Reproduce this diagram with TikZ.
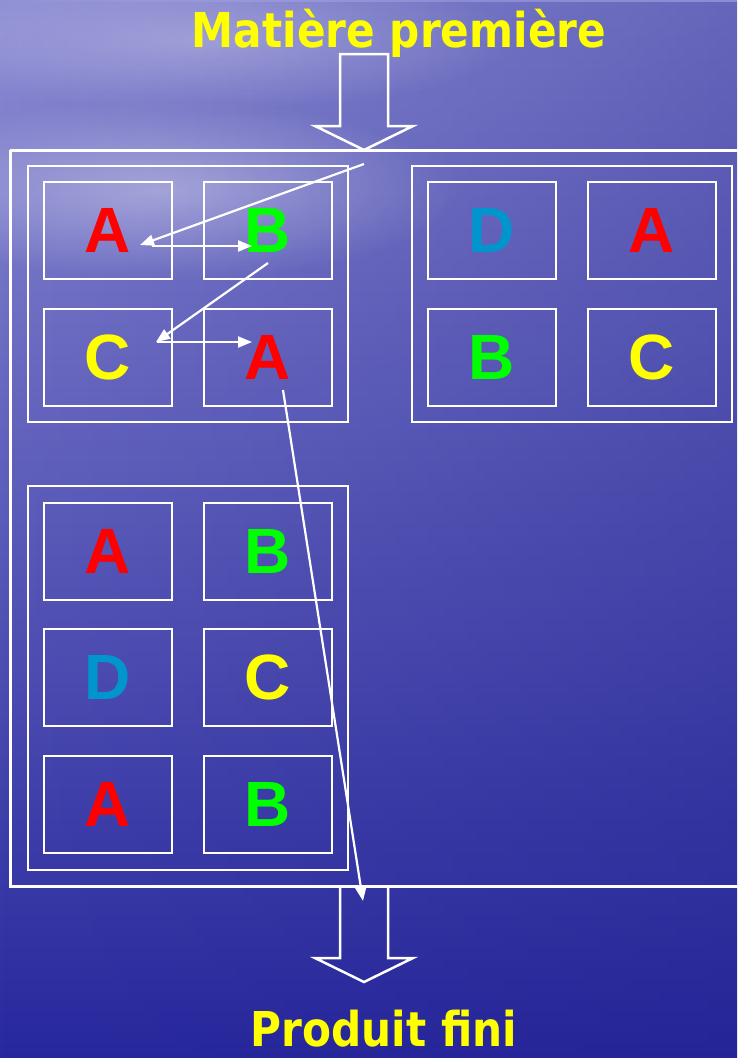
\documentclass[tikz,border=0pt]{standalone}
\usepackage{fontspec}
\setmainfont{Liberation Sans}
\newfontfamily\titlefont{DejaVu Sans}
\usetikzlibrary{arrows.meta,fadings}
\definecolor{bgtop}{RGB}{140,140,212}
\definecolor{bgmid}{RGB}{92,92,190}
\definecolor{bgbot}{RGB}{40,40,158}
\definecolor{bgdark}{RGB}{30,30,140}
\definecolor{lred}{RGB}{255,0,0}
\definecolor{lgreen}{RGB}{0,255,0}
\definecolor{lyellow}{RGB}{255,255,0}
\definecolor{lcyan}{RGB}{0,150,205}
\tikzfading[name=fadetoleft, left color=transparent!100, right color=transparent!0]
\tikzfading[name=softblob, inner color=transparent!0, outer color=transparent!100]
\tikzset{
  cell/.style={draw=white, line width=2pt, minimum width=128pt, minimum height=97pt,
    inner sep=0pt, font=\fontsize{64}{64}\selectfont\bfseries},
  grp/.style={draw=white, line width=2pt, minimum width=320pt, inner sep=0pt},
  bigarrow/.style={draw=white, line width=2.5pt, line join=miter},
  flow/.style={draw=white, line width=2.2pt, -{Triangle[length=14pt,width=11pt]}},
  titletext/.style={text=lyellow, font=\fontsize{48}{48}\titlefont\bfseries, inner sep=0pt}
}
\begin{document}
\begin{tikzpicture}[x=1pt,y=-1pt]
\useasboundingbox (0,0) rectangle (737,1058);
% background
\shade[top color=bgtop, middle color=bgmid, bottom color=bgbot] (0,0) rectangle (737,1058);
\fill[bgdark, opacity=0.35, path fading=fadetoleft] (0,0) rectangle (737,1058);
\fill[white, opacity=0.35, path fading=softblob] (160,190) ellipse (300 and 90);
\fill[white, opacity=0.25, path fading=softblob] (200,40) ellipse (320 and 70);

% titles
\node[titletext, anchor=base] (top) at (399,47) {\scalebox{0.88}[1]{Matière première}};
\node[titletext, anchor=base] (bottom) at (384,1046) {\scalebox{0.88}[1]{Produit fini}};

% outer frame
\draw[white, line width=3pt] (10,150) -- (745,150) (10,150) -- (10,886) -- (745,886);

% big arrows
\draw[bigarrow] (340,54) -- (388,54) -- (388,126) -- (413,126) -- (364,150) -- (315,126) -- (340,126) -- cycle;
\draw[bigarrow] (340,886) -- (340,958) -- (315,958) -- (364,982) -- (413,958) -- (388,958) -- (388,886);

% groups
\node[grp, minimum height=256pt] (g1) at (188,294) {};
\node[grp, minimum height=256pt] (g2) at (572,294) {};
\node[grp, minimum height=384pt] (g3) at (188,678) {};

% group 1
\node[cell, text=lred]    (a11) at (108,230.5) {A};
\node[cell, text=lgreen]  (a12) at (268,230.5) {B};
\node[cell, text=lyellow] (a21) at (108,357) {C};
\node[cell, text=lred]    (a22) at (268,357) {A};
% group 2
\node[cell, text=lcyan]   (b11) at (492,230.5) {D};
\node[cell, text=lred]    (b12) at (652,230.5) {A};
\node[cell, text=lgreen]  (b21) at (492,357) {B};
\node[cell, text=lyellow] (b22) at (652,357) {C};
% group 3
\node[cell, text=lred]    (c11) at (108,551) {A};
\node[cell, text=lgreen]  (c12) at (268,551) {B};
\node[cell, text=lcyan]   (c21) at (108,677) {D};
\node[cell, text=lyellow] (c22) at (268,677) {C};
\node[cell, text=lred]    (c31) at (108,804) {A};
\node[cell, text=lgreen]  (c32) at (268,804) {B};

% flow path
\coordinate (p0) at (364,164);
\coordinate (p1) at (140,245);
\coordinate (p2) at (152,246);
\coordinate (p3) at (252,246);
\coordinate (p4) at (268,263);
\coordinate (p5) at (156,342);
\coordinate (p6) at (157,342);
\coordinate (p7) at (252,342);
\coordinate (p8) at (283,390);
\coordinate (p9) at (363,901);
\draw[flow] (p0) -- (p1);
\draw[flow] (p2) -- (p3);
\draw[flow] (p4) -- (p5);
\draw[flow] (p6) -- (p7);
\draw[flow] (p8) -- (p9);
\end{tikzpicture}
\end{document}
